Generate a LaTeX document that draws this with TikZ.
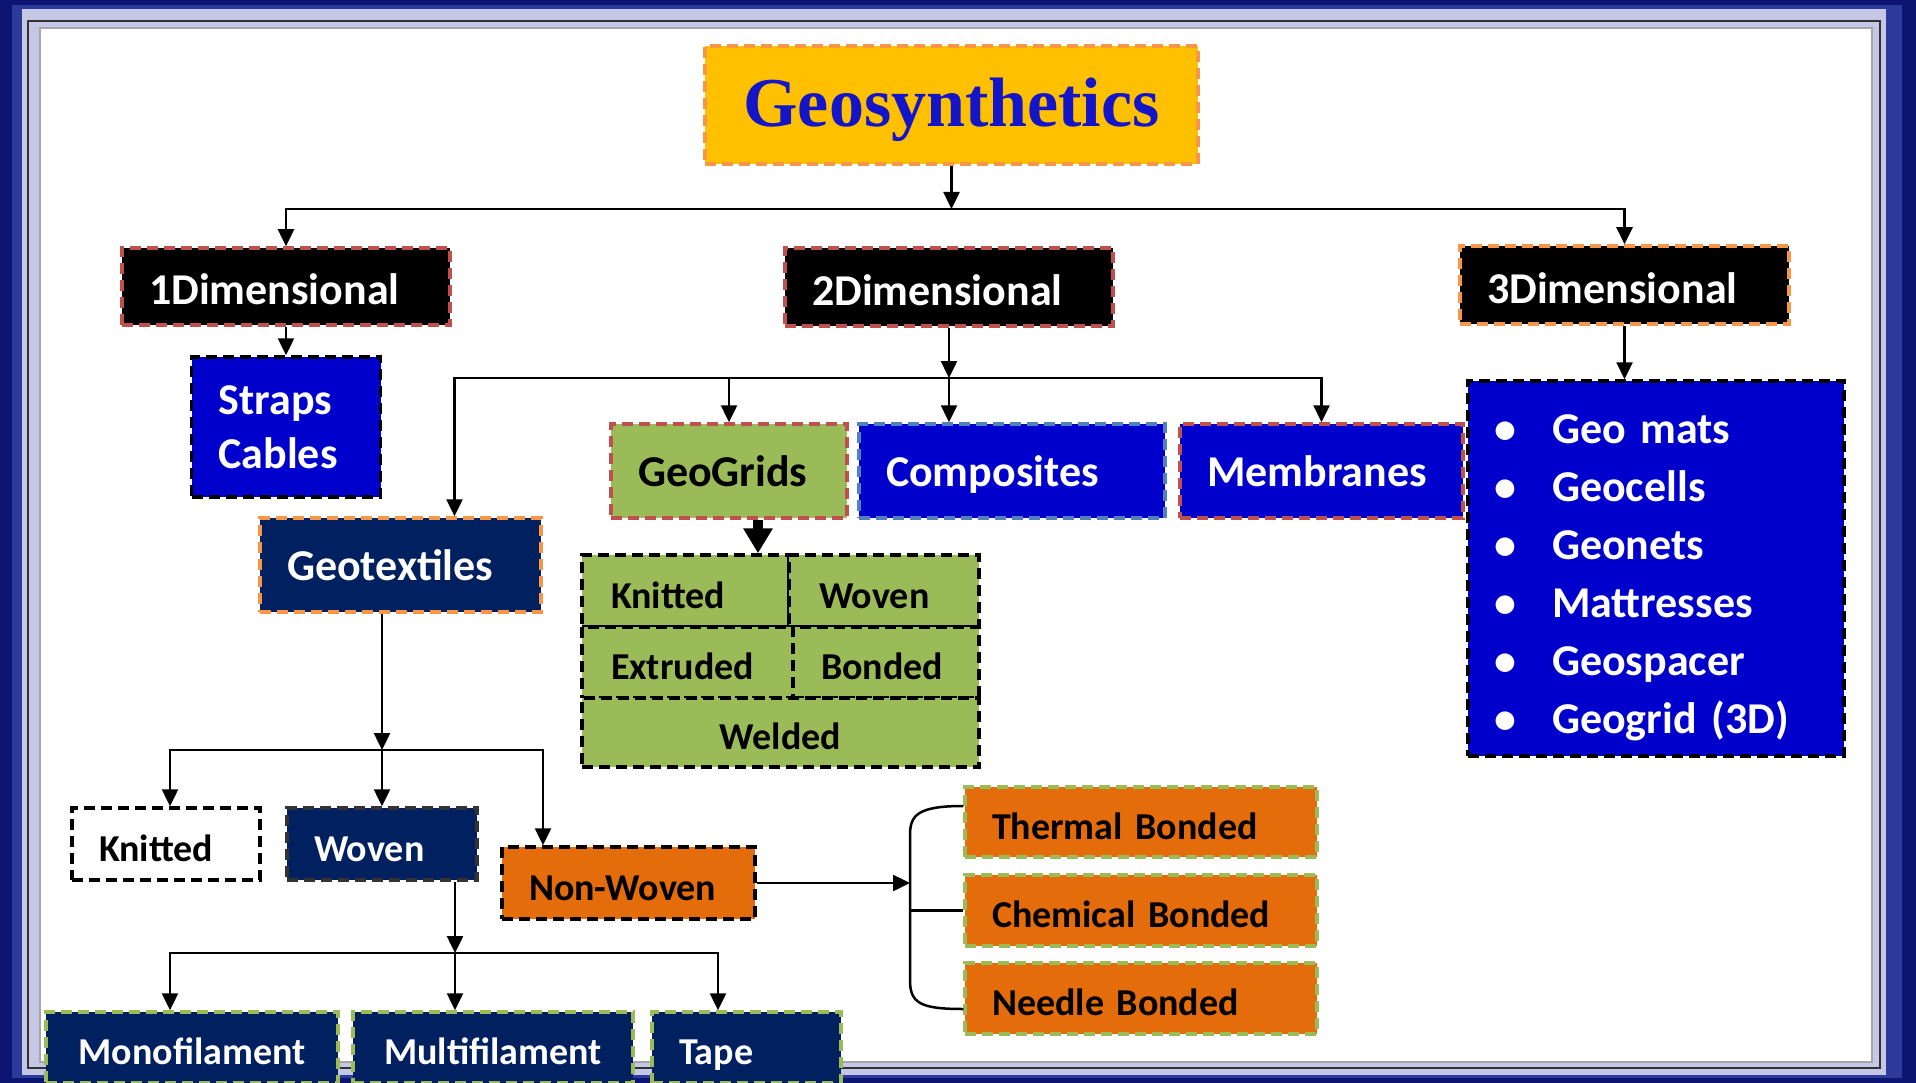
\documentclass[tikz,border=0pt]{standalone}
\usepackage{fontspec}
\setmainfont{Carlito}
\newfontfamily\titlefont{Liberation Serif}
\usetikzlibrary{arrows.meta,calc}
\definecolor{navy}{HTML}{002060}
\definecolor{rblue}{HTML}{0000CC}
\definecolor{ggreen}{HTML}{9BBB59}
\definecolor{orng}{HTML}{E46C0A}
\definecolor{gold}{HTML}{FFC000}
\definecolor{bord}{HTML}{F79646}
\definecolor{redb}{HTML}{C0504D}
\definecolor{lblue}{HTML}{4F81BD}
\definecolor{framec}{HTML}{0D1573}
\definecolor{framem}{HTML}{2E3A9A}
\definecolor{lav}{HTML}{C4C8E6}
\definecolor{titleblue}{HTML}{1414C8}
\begin{document}
\begin{tikzpicture}[x=1pt,y=-1pt,
 box/.style={draw, line width=3.5pt, dash pattern=on 11pt off 6pt, inner sep=0pt, font=\fontsize{44}{54}\selectfont\bfseries},
 sl/.style={text height=30pt, text depth=0pt},
 sld/.style={text height=37pt, text depth=0pt},
 sm/.style={font=\fontsize{38}{46}\selectfont\bfseries, text height=34pt, text depth=0pt},
 arr/.style={line width=2.5pt, -{Triangle[length=17pt,width=16pt]}},
 ln/.style={line width=2.5pt},
]
\useasboundingbox (0,0) rectangle (1916,1083);
% frame
\fill[framec] (0,0) rectangle (1916,1083);
\fill[framem] (12,5) rectangle (1902,1078);
\fill[lav] (22,9) rectangle (1886,1075);
\draw[black!80, line width=2pt] (28,21) rectangle (1880,1068);
\fill[white] (40,28) rectangle (1872,1062);
\draw[gray!70, line width=1.5pt] (40,28) rectangle (1872,1062);

% nodes
\node[box, draw=bord, fill=gold, minimum width=493pt, minimum height=118pt,
  font=\titlefont\fontsize{70}{80}\selectfont\bfseries, text=titleblue, text height=50pt, text depth=6pt] (geo) at (951.5,105) {Geosynthetics};

\node[box, sld, draw=redb, fill=black, text=white, minimum width=328pt, minimum height=77pt, text width=274pt, align=left] (d1) at (286,286.5) {1Dimensional};
\node[box, sld, draw=redb, fill=black, text=white, minimum width=328pt, minimum height=78pt, text width=274pt, align=left] (d2) at (949,287) {2Dimensional};
\node[box, sld, draw=bord, fill=black, text=white, minimum width=329pt, minimum height=78pt, text width=275pt, align=left] (d3) at (1624.5,285) {3Dimensional};

\node[box, draw=black, fill=rblue, text=white, minimum width=189pt, minimum height=140pt, text width=135pt, align=left] (straps) at (286,427) {Straps\\Cables};

\node[box, sl, draw=redb, fill=ggreen, text=black, minimum width=236pt, minimum height=94pt, text width=182pt, align=left] (gg) at (729,471) {GeoGrids};
\node[box, sl, draw=lblue, fill=rblue, text=white, minimum width=306pt, minimum height=94pt, text width=252pt, align=left] (comp) at (1012,471) {Composites};
\node[box, sl, draw=redb, fill=rblue, text=white, minimum width=283pt, minimum height=94pt, text width=229pt, align=left] (memb) at (1321.5,471) {Membranes};

\node[box, draw=black, fill=rblue, text=white, minimum width=376pt, minimum height=375pt, text width=324pt, align=left,
  font=\fontsize{44}{58}\selectfont\bfseries] (l3) at (1656,568.5)
  {\rule{0pt}{47pt}\makebox[58pt][l]{•}Geo mats\\\makebox[58pt][l]{•}Geocells\\\makebox[58pt][l]{•}Geonets\\\makebox[58pt][l]{•}Mattresses\\\makebox[58pt][l]{•}Geospacer\\\makebox[58pt][l]{•}Geogrid (3D)};

\node[box, sl, draw=bord, fill=navy, text=white, minimum width=281pt, minimum height=94pt, text width=227pt, align=left] (geotex) at (400.5,565) {Geotextiles};

% geogrid table
\node[box, sm, draw=black, fill=ggreen, minimum width=207pt, minimum height=72pt, text width=149pt, align=left] (gk) at (685.5,591) {Knitted};
\node[box, sm, draw=black, fill=ggreen, minimum width=190pt, minimum height=72pt, text width=130pt, align=left] (gw) at (884,591) {Woven};
\node[box, sm, draw=black, fill=ggreen, minimum width=211pt, minimum height=71pt, text width=153pt, align=left] (ge) at (687.5,662.5) {Extruded};
\node[box, sm, draw=black, fill=ggreen, minimum width=186pt, minimum height=71pt, text width=130pt, align=left] (gb) at (886,662.5) {Bonded};
\node[box, sm, draw=black, fill=ggreen, minimum width=397pt, minimum height=69pt] (gwe) at (780.5,732.5) {Welded};

% geotextile children
\node[box, sm, draw=black, fill=white, text=black, minimum width=188pt, minimum height=72pt, text width=134pt, align=left] (knit) at (166,844) {Knitted};
\node[box, sm, draw=black!80, fill=navy, text=white, minimum width=190pt, minimum height=72pt, text width=136pt, align=left] (woven) at (382,844) {Woven};
\node[box, sm, draw=black, fill=orng, text=black, minimum width=253pt, minimum height=72pt, text width=199pt, align=left] (nw) at (628.5,883) {Non-Woven};

\node[box, sm, draw=ggreen, fill=navy, text=white, minimum width=292pt, minimum height=71pt] (mono) at (192,1047.5) {Monofilament};
\node[box, sm, draw=ggreen, fill=navy, text=white, minimum width=280pt, minimum height=71pt] (multi) at (493,1047.5) {Multifilament};
\node[box, sm, draw=ggreen, fill=navy, text=white, minimum width=189pt, minimum height=71pt, text width=135pt, align=left] (tape) at (746.5,1047.5) {Tape};

\node[box, sm, draw=ggreen, fill=orng, text=black, minimum width=352pt, minimum height=70pt, text width=298pt, align=left] (th) at (1141,822) {Thermal Bonded};
\node[box, sm, draw=ggreen, fill=orng, text=black, minimum width=352pt, minimum height=71pt, text width=298pt, align=left] (ch) at (1141,910.5) {Chemical Bonded};
\node[box, sm, draw=ggreen, fill=orng, text=black, minimum width=352pt, minimum height=71pt, text width=298pt, align=left] (ne) at (1141,998.5) {Needle Bonded};

% connectors
\coordinate (j1) at (951.5,209);
\draw[arr] (geo.south) -- (j1);
\draw[arr] (j1) -| (d1.north);
\draw[arr] (j1) -| (d3.north);
\draw[arr] (d1.south) -- (straps.north);

\coordinate (j2) at (949,378);
\draw[arr] (d2.south) -- (j2);
\draw[arr] (j2) -| ([xshift=54pt]geotex.north);
\draw[arr] (j2) -| (gg.north);
\draw[arr] (j2) -- (j2 |- comp.north);
\draw[arr] (j2) -| (memb.north);
\draw[arr] (d3.south) -- (d3.south |- l3.north);
\draw[line width=10pt, -{Triangle[length=25pt,width=28pt]}] ([xshift=29pt]gg.south) -- ([xshift=29pt]gg.south |- gk.north);

\coordinate (j3) at (382,750);
\draw[arr] ([xshift=-18.5pt]geotex.south) -- (j3);
\draw[arr] (j3) -| ([xshift=4pt]knit.north);
\draw[arr] (j3) -- (j3 |- woven.north);
\draw[arr] (j3) -| ([xshift=-85.5pt]nw.north);

\coordinate (j4) at (455,953);
\draw[arr] ([xshift=73pt]woven.south) -- (j4);
\draw[arr] (j4) -| ([xshift=-22pt]mono.north);
\draw[arr] (j4) -- (j4 |- multi.north);
\draw[arr] (j4) -| ([xshift=-28.5pt]tape.north);

\coordinate (bx) at (910,883);
\draw[arr] (nw.east) -- (bx);
\draw[ln] ([yshift=16pt]th.west) .. controls (918,806) and (910,815) .. (910,835) -- (910,980) .. controls (910,1003) and (920,1009) .. ([yshift=-10.5pt]ne.west);
\draw[ln] (ch.west -| bx) -- (ch.west);
\end{tikzpicture}
\end{document}
